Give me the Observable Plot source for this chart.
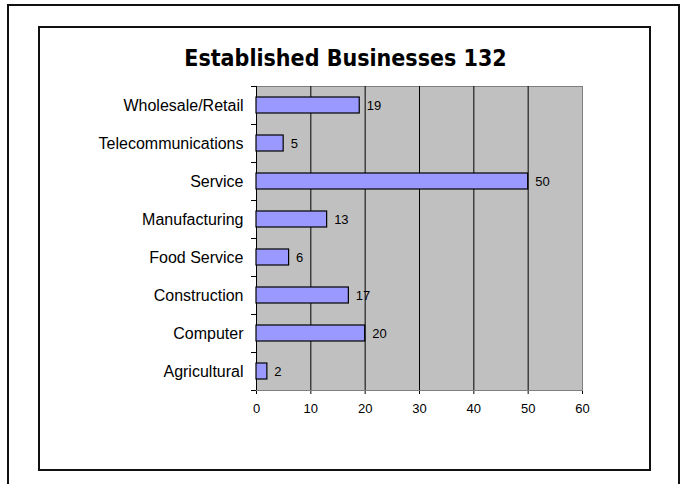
<!DOCTYPE html>
<html>
<head>
<meta charset="utf-8">
<script src="https://cdn.jsdelivr.net/npm/d3@7"></script>
<script src="https://cdn.jsdelivr.net/npm/@observablehq/plot@0.6"></script>
<style>
  html, body { margin: 0; padding: 0; background: #fff; }
  #page { position: relative; width: 680px; height: 484px; overflow: hidden; background: #fff; }
  #outer { position: absolute; left: 7px; top: 4px; width: 673px; height: 520px; box-sizing: border-box; border: 2px solid #111; }
  #inner { position: absolute; left: 38px; top: 26px; width: 613px; height: 445px; box-sizing: border-box; border: 2px solid #111; }
  #title { position: absolute; left: 40px; top: 46px; width: 611px; text-align: center;
           font-family: "DejaVu Sans Condensed", "DejaVu Sans", sans-serif; font-stretch: condensed; font-weight: bold; font-size: 23px; line-height: 24px; color: #000; }
  #chart { position: absolute; left: 40px; top: 70px; }
</style>
</head>
<body>
<div id="page">
  <div id="outer"></div>
  <div id="inner"></div>
  <div id="title">Established Businesses 132</div>
  <div id="chart"></div>
</div>
<script>
const categories = ["Wholesale/Retail", "Telecommunications", "Service", "Manufacturing", "Food Service", "Construction", "Computer", "Agricultural"];
const counts = [19, 5, 50, 13, 6, 17, 20, 2];
const xTicks = [0, 10, 20, 30, 40, 50, 60];
const gridTicks = [10, 20, 30, 40, 50];

const data = categories.map((c, i) => ({category: c, count: counts[i]}));
const lastCategory = [categories[categories.length - 1]];

const chart = Plot.plot({
  width: 600,
  height: 360,
  marginLeft: 216,
  marginRight: 58,
  marginTop: 16,
  marginBottom: 40,
  style: {fontFamily: "'Liberation Sans', Arial, sans-serif", fontSize: "13px", color: "#000", background: "transparent", overflow: "visible"},
  x: {domain: [0, 60], ticks: xTicks, tickSize: 4, tickPadding: 9, label: null, line: true},
  y: {domain: categories, paddingInner: 0.59, paddingOuter: 0.295, axis: null},
  marks: [
    Plot.frame({fill: "#c0c0c0", stroke: "#808080"}),
    Plot.ruleX(gridTicks, {stroke: "#000"}),
    Plot.ruleX([0], {stroke: "#000"}),
    Plot.barX(data, {x: "count", y: "category", fill: "#9999ff", stroke: "#000", strokeWidth: 1.2}),
    Plot.text(data, {x: "count", y: "category", text: d => String(d.count), textAnchor: "start", dx: 7, fontSize: 13}),
    Plot.text(categories, {y: d => d, frameAnchor: "left", textAnchor: "end", dx: -13, fontSize: 16}),
    Plot.ruleY(categories, {y: d => d, dy: -19, x1: 0, x2: 0, insetLeft: -5, stroke: "#000"}),
    Plot.ruleY(lastCategory, {y: d => d, dy: 19, x1: 0, x2: 0, insetLeft: -5, stroke: "#000"})
  ]
});
chart.querySelectorAll("text").forEach(t => { if (t.getAttribute("font-size") === "16") t.style.letterSpacing = "0.25px"; });
document.getElementById("chart").appendChild(chart);
</script>
</body>
</html>
